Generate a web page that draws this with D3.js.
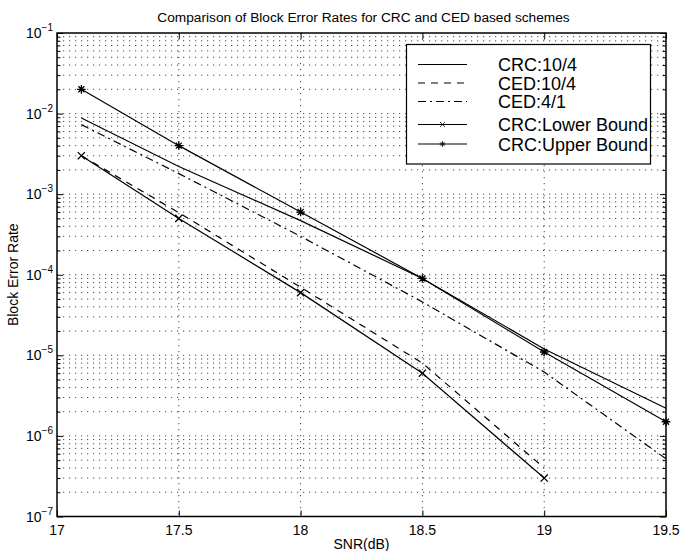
<!doctype html>
<html>
<head>
<meta charset="utf-8" />
<script src="https://cdn.jsdelivr.net/npm/d3@7"></script>
<style>
  body { margin: 0; background: #fff; }
  svg { font-family: "Liberation Sans", Arial, sans-serif; }
  .grid line { stroke: #333; stroke-width: 0.9; stroke-dasharray: 1.2,4.8; }
</style>
</head>
<body>
<svg id="chart" width="681" height="551"></svg>
<script>
// data
var snr = [17.1, 17.5, 18, 18.5, 19, 19.5];
var crc104 = [8.8e-3, 2.2e-3, 4.7e-4, 9.0e-5, 1.2e-5, 2.2e-6];
var ced104 = [3.0e-3, 5.9e-4, 7.0e-5, 8.0e-6, 4.0e-7];
var ced41 = [7.3e-3, 1.8e-3, 3.0e-4, 4.6e-5, 6.2e-6, 5.2e-7];
var lowerBound = [3.0e-3, 5.0e-4, 6.0e-5, 6.0e-6, 3.0e-7];
var upperBound = [2.0e-2, 4.0e-3, 6.0e-4, 9.0e-5, 1.1e-5, 1.5e-6];
var xTicks = [17, 17.5, 18, 18.5, 19, 19.5];
var yDecades = [-7, -6, -5, -4, -3, -2, -1];
var legendNames = ["CRC:10/4", "CED:10/4", "CED:4/1", "CRC:Lower Bound", "CRC:Upper Bound"];

var series = [
  {name: legendNames[0], y: crc104, dash: null, marker: null},
  {name: legendNames[1], y: ced104, dash: "7,6", marker: null},
  {name: legendNames[2], y: ced41, dash: "8,4,2,4", marker: null},
  {name: legendNames[3], y: lowerBound, dash: null, marker: "x"},
  {name: legendNames[4], y: upperBound, dash: null, marker: "star"}
];

var svg = d3.select("#chart");
var L = 57, R = 666, T = 33, B = 516.5;

var x = d3.scaleLinear().domain([17, 19.5]).range([L, R]);
var y = d3.scaleLog().domain([1e-7, 1e-1]).range([B, T]);

// minor values for log grid
var minorVals = [];
yDecades.slice(0, -1).forEach(function (e) {
  for (var k = 2; k <= 9; k++) minorVals.push(k * Math.pow(10, e));
});
var majorVals = yDecades.map(function (e) { return Math.pow(10, e); });

// grid
var grid = svg.append("g").attr("class", "grid");
grid.selectAll("line.h").data(minorVals.concat(majorVals.slice(1, -1))).enter().append("line")
  .attr("class", "h")
  .attr("x1", L).attr("x2", R)
  .attr("y1", function (d) { return y(d); }).attr("y2", function (d) { return y(d); });
grid.selectAll("line.v").data(xTicks.slice(1, -1)).enter().append("line")
  .attr("class", "v")
  .attr("y1", T).attr("y2", B)
  .attr("x1", function (d) { return x(d); }).attr("x2", function (d) { return x(d); });

// axes (ticks inside, matlab style)
function styleAxis(g) {
  g.select(".domain").remove();
  g.selectAll(".tick line").attr("stroke", "#000").attr("stroke-width", 1);
  g.selectAll(".tick text").remove();
}
svg.append("g").attr("transform", "translate(0," + B + ")")
  .call(d3.axisBottom(x).tickValues(xTicks).tickSizeInner(-6).tickSizeOuter(0)).call(styleAxis);
svg.append("g").attr("transform", "translate(0," + T + ")")
  .call(d3.axisTop(x).tickValues(xTicks).tickSizeInner(-6).tickSizeOuter(0)).call(styleAxis);
svg.append("g").attr("transform", "translate(" + L + ",0)")
  .call(d3.axisLeft(y).tickValues(majorVals).tickSizeInner(-6).tickSizeOuter(0)).call(styleAxis);
svg.append("g").attr("transform", "translate(" + R + ",0)")
  .call(d3.axisRight(y).tickValues(majorVals).tickSizeInner(-6).tickSizeOuter(0)).call(styleAxis);
svg.append("g").attr("transform", "translate(" + L + ",0)")
  .call(d3.axisLeft(y).tickValues(minorVals).tickSizeInner(-3.5).tickSizeOuter(0)).call(styleAxis);
svg.append("g").attr("transform", "translate(" + R + ",0)")
  .call(d3.axisRight(y).tickValues(minorVals).tickSizeInner(-3.5).tickSizeOuter(0)).call(styleAxis);

svg.append("rect").attr("x", L).attr("y", T).attr("width", R - L).attr("height", B - T)
  .attr("fill", "none").attr("stroke", "#000").attr("stroke-width", 1.5);

// tick labels
svg.selectAll("text.xl").data(xTicks).enter().append("text")
  .attr("x", function (d) { return x(d); }).attr("y", B + 18)
  .attr("text-anchor", "middle").attr("font-size", 14)
  .text(function (d) { return d; });

var yl = svg.selectAll("text.yl").data(yDecades).enter().append("text")
  .attr("x", 53).attr("y", function (d) { return y(Math.pow(10, d)) + 5; })
  .attr("text-anchor", "end").attr("font-size", 14);
yl.append("tspan").text("10");
yl.append("tspan").attr("dy", -7).attr("font-size", 10)
  .text(function (d) { return "\u2212" + (-d); });

// lines
var line = d3.line()
  .x(function (d) { return x(d[0]); })
  .y(function (d) { return y(d[1]); });

series.forEach(function (s) {
  var pts = s.y.map(function (v, i) { return [snr[i], v]; });
  svg.append("path").datum(pts)
    .attr("d", line).attr("fill", "none").attr("stroke", "#000")
    .attr("stroke-width", 1.2)
    .attr("stroke-dasharray", s.dash);
  if (s.marker) {
    svg.selectAll(null).data(pts).enter().append("path")
      .attr("transform", function (d) { return "translate(" + x(d[0]) + "," + y(d[1]) + ")"; })
      .attr("d", markerPath(s.marker))
      .attr("stroke", "#000").attr("stroke-width", 1.3).attr("fill", "none");
  }
});

function markerPath(m) {
  var r = 3.6;
  if (m === "x") return "M" + -r + "," + -r + "L" + r + "," + r + "M" + -r + "," + r + "L" + r + "," + -r;
  var a = 4.3, b = 3;
  return "M" + -a + ",0L" + a + ",0M0," + -a + "L0," + a +
    "M" + -b + "," + -b + "L" + b + "," + b + "M" + -b + "," + b + "L" + b + "," + -b;
}

// legend
var lg = svg.append("g");
lg.append("rect").attr("x", 406.5).attr("y", 44.5).attr("width", 244).attr("height", 119.5)
  .attr("fill", "#fff").attr("stroke", "#000").attr("stroke-width", 1.2);
var rowY = [64.5, 83, 101.5, 124.5, 144];
series.forEach(function (s, i) {
  lg.append("line").attr("x1", 418).attr("x2", 467).attr("y1", rowY[i]).attr("y2", rowY[i])
    .attr("stroke", "#000").attr("stroke-width", 1.2).attr("stroke-dasharray", s.dash);
  if (s.marker) {
    lg.append("path")
      .attr("d", markerPath(s.marker)).attr("stroke", "#000").attr("stroke-width", 1.1)
      .attr("fill", "none").attr("transform", "translate(442.5," + rowY[i] + ") scale(0.7)");
  }
  lg.append("text").attr("x", 498).attr("y", rowY[i] + 6.5).attr("font-size", 18)
    .text(s.name);
});

// title and axis labels
svg.append("text").attr("x", (L + R) / 2 + 2).attr("y", 22).attr("text-anchor", "middle")
  .attr("font-size", 13.7).text("Comparison of Block Error Rates for CRC and CED based schemes");
svg.append("text").attr("x", (L + R) / 2).attr("y", 549).attr("text-anchor", "middle")
  .attr("font-size", 14).text("SNR(dB)");
svg.append("text").attr("transform", "translate(18," + (T + B) / 2 + ") rotate(-90)")
  .attr("text-anchor", "middle").attr("font-size", 14).text("Block Error Rate");
</script>
</body>
</html>
